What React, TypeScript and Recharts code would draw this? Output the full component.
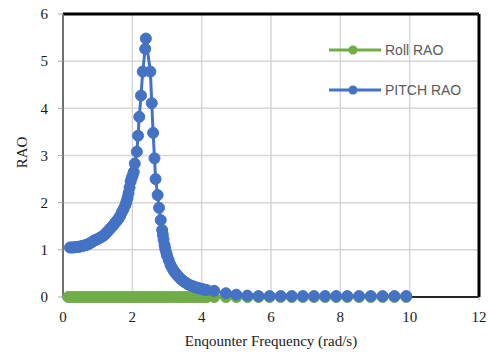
import { CartesianGrid, Legend, Line, LineChart, ReferenceLine, XAxis, YAxis } from 'recharts';

// encounter frequency (rad/s) and RAO
const pitchFreq = [
  0.2, 0.25, 0.3, 0.35, 0.4, 0.45, 0.5, 0.55, 0.6, 0.65, 0.7, 0.75, 0.8, 0.85, 0.9, 0.95, 1.0, 1.05, 1.1, 1.15, 1.2,
  1.25, 1.3, 1.35, 1.4, 1.45, 1.5, 1.55, 1.6, 1.65, 1.7, 1.75, 1.8, 1.83, 1.86, 1.89, 1.92, 1.95, 1.98, 2.01, 2.04,
  2.07, 2.13, 2.165, 2.2, 2.25, 2.3, 2.37, 2.39, 2.52, 2.56, 2.6, 2.64, 2.67, 2.73, 2.77, 2.82, 2.86, 2.88, 2.9, 2.93,
  2.95, 2.98, 3.0, 3.05, 3.1, 3.15, 3.2, 3.25, 3.3, 3.35, 3.4, 3.45, 3.5, 3.55, 3.6, 3.65, 3.7, 3.75, 3.8, 3.85, 3.9,
  3.95, 4.0, 4.05, 4.1, 4.15, 4.36, 4.7, 5.0, 5.32, 5.64, 5.96, 6.28, 6.6, 6.92, 7.24, 7.56, 7.88, 8.2, 8.54, 8.88,
  9.22, 9.56, 9.9,
];
const pitchRao = [
  1.05, 1.05, 1.05, 1.055, 1.06, 1.065, 1.07, 1.08, 1.09, 1.1, 1.11, 1.13, 1.15, 1.17, 1.2, 1.21, 1.23, 1.25, 1.27,
  1.29, 1.32, 1.36, 1.4, 1.44, 1.48, 1.52, 1.57, 1.61, 1.66, 1.72, 1.8, 1.87, 1.95, 2.02, 2.1, 2.2, 2.32, 2.45, 2.52,
  2.58, 2.65, 2.83, 3.08, 3.42, 3.82, 4.27, 4.78, 5.26, 5.48, 4.78, 4.11, 3.48, 2.94, 2.5, 2.16, 1.89, 1.63, 1.42, 1.32,
  1.22, 1.1, 1.02, 0.94, 0.88, 0.78, 0.68, 0.61, 0.55, 0.5, 0.46, 0.42, 0.38, 0.35, 0.32, 0.3, 0.27, 0.255, 0.24,
  0.225, 0.21, 0.2, 0.19, 0.18, 0.17, 0.16, 0.15, 0.145, 0.13, 0.08, 0.05, 0.03, 0.02, 0.02, 0.02, 0.02, 0.02, 0.02,
  0.02, 0.02, 0.02, 0.02, 0.02, 0.02, 0.02, 0.02, 0.02,
];
const rollFreq = [
  0.15, 0.25, 0.35, 0.45, 0.55, 0.65, 0.75, 0.85, 0.95, 1.05, 1.15, 1.25, 1.35, 1.45, 1.55, 1.65, 1.75, 1.85, 1.95,
  2.05, 2.15, 2.25, 2.35, 2.45, 2.55, 2.65, 2.75, 2.85, 2.95, 3.05, 3.15, 3.25, 3.35, 3.45, 3.55, 3.65, 3.75, 3.85,
  3.95, 4.05, 4.15, 4.36, 4.7, 5.0, 5.32, 5.64, 5.96, 6.28, 6.6, 6.92, 7.24, 7.56, 7.88, 8.2, 8.54, 8.88, 9.22, 9.56,
  9.9,
];
const rollRao = [
  0, 0, 0, 0, 0, 0, 0, 0, 0, 0, 0, 0, 0, 0, 0, 0, 0, 0, 0, 0, 0, 0, 0, 0, 0, 0, 0, 0, 0, 0, 0, 0, 0, 0, 0, 0, 0, 0, 0,
  0, 0, 0, 0, 0, 0, 0, 0, 0, 0, 0, 0, 0, 0, 0, 0, 0, 0, 0, 0,
];

const xTicks = [0, 2, 4, 6, 8, 10, 12];
const yTicks = [0, 1, 2, 3, 4, 5, 6];
const xMinor = [
  0, 0.4, 0.8, 1.2, 1.6, 2, 2.4, 2.8, 3.2, 3.6, 4, 4.4, 4.8, 5.2, 5.6, 6, 6.4, 6.8, 7.2, 7.6, 8, 8.4, 8.8, 9.2, 9.6,
  10, 10.4, 10.8, 11.2, 11.6, 12,
];
const yMinor = [
  0, 0.2, 0.4, 0.6, 0.8, 1, 1.2, 1.4, 1.6, 1.8, 2, 2.2, 2.4, 2.6, 2.8, 3, 3.2, 3.4, 3.6, 3.8, 4, 4.2, 4.4, 4.6, 4.8,
  5, 5.2, 5.4, 5.6, 5.8, 6,
];

const pitchData = pitchFreq.map((x, i) => ({ x, y: pitchRao[i] }));
const rollData = rollFreq.map((x, i) => ({ x, y: rollRao[i] }));

const BLUE = '#4472C4';
const GREEN = '#70AD47';
const SERIF = "'Liberation Serif', 'Times New Roman', serif";
const INK = '#1a1a1a';

const legendItems = [
  { name: 'Roll RAO', color: GREEN },
  { name: 'PITCH RAO', color: BLUE },
];

const LegendBox = () => (
  <svg width={150} height={64}>
    {legendItems.map((item, i) => {
      const y = 12 + i * 40;
      return (
        <g key={item.name}>
          <line x1={4} y1={y} x2={56} y2={y} stroke={item.color} strokeWidth={3} />
          <circle cx={28} cy={y} r={4.5} fill={item.color} />
          <text
            x={60}
            y={y}
            dominantBaseline="central"
            fill="#595959"
            fontSize={14}
            style={{ fontFamily: "'Liberation Sans', Arial, sans-serif" }}
          >
            {item.name}
          </text>
        </g>
      );
    })}
  </svg>
);

const XTick = (props: any) => (
  <text x={props.x} y={props.y} dy="0.71em" textAnchor="middle" fontSize={15} fill={INK} style={{ fontFamily: SERIF }}>
    {props.payload.value}
  </text>
);

const YTick = (props: any) => (
  <text x={props.x} y={props.y} dy="0.355em" textAnchor="end" fontSize={15} fill={INK} style={{ fontFamily: SERIF }}>
    {props.payload.value}
  </text>
);

const XTitle = (props: any) => {
  const { viewBox } = props;
  return (
    <text
      x={viewBox.x + viewBox.width / 2}
      y={viewBox.y + 49}
      textAnchor="middle"
      fontSize={15}
      fill={INK}
      style={{ fontFamily: SERIF }}
    >
      Enqounter Frequency (rad/s)
    </text>
  );
};

const YTitle = (props: any) => {
  const { viewBox } = props;
  const cx = viewBox.x + 9;
  const cy = viewBox.y + viewBox.height / 2 - 3;
  return (
    <text
      x={cx}
      y={cy}
      transform={`rotate(-90 ${cx} ${cy})`}
      textAnchor="middle"
      dominantBaseline="central"
      fontSize={15}
      fill={INK}
      style={{ fontFamily: SERIF }}
    >
      RAO
    </text>
  );
};

export default function App() {
  return (
    <div style={{ position: 'absolute', left: 0, top: 0, width: 490, height: 355, background: '#fff' }}>
      <LineChart width={490} height={355} margin={{ top: 14, right: 11, left: 13, bottom: 0 }}>
        <XAxis xAxisId="minor" type="number" dataKey="x" domain={[0, 12]} ticks={xMinor} hide />
        <YAxis yAxisId="minor" type="number" domain={[0, 6]} ticks={yMinor} hide />
        <CartesianGrid xAxisId="minor" yAxisId="minor" stroke="#efefef" strokeWidth={1.5} />
        <CartesianGrid xAxisId="main" yAxisId="main" stroke="#d6d6d6" strokeWidth={1.5} />
        <XAxis
          xAxisId="main"
          type="number"
          dataKey="x"
          domain={[0, 12]}
          ticks={xTicks}
          height={58}
          tick={<XTick />}
          tickSize={3}
          tickMargin={11}
          tickLine={{ stroke: '#a6a6a6' }}
          axisLine={{ stroke: '#262626', strokeWidth: 2 }}
          label={<XTitle />}
        />
        <YAxis
          yAxisId="main"
          type="number"
          domain={[0, 6]}
          ticks={yTicks}
          width={50}
          tick={<YTick />}
          tickSize={5}
          tickMargin={10}
          tickLine={{ stroke: '#a6a6a6' }}
          axisLine={{ stroke: '#6f6f6f', strokeWidth: 2 }}
          label={<YTitle />}
        />
        <ReferenceLine xAxisId="main" yAxisId="main" y={6} stroke="#000" strokeWidth={3} />
        <ReferenceLine xAxisId="main" yAxisId="main" x={12} stroke="#000" strokeWidth={3} />
        <Legend
          layout="vertical"
          align="center"
          verticalAlign="middle"
          content={<LegendBox />}
          wrapperStyle={{ position: 'absolute', left: 325, top: 38, width: 150, height: 64 }}
        />
        <Line
          xAxisId="main"
          yAxisId="main"
          data={rollData}
          dataKey="y"
          name="Roll RAO"
          stroke={GREEN}
          strokeWidth={3}
          dot={{ r: 5.5, fill: GREEN, stroke: GREEN, strokeWidth: 1 }}
          activeDot={false}
          isAnimationActive={false}
        />
        <Line
          xAxisId="main"
          yAxisId="main"
          data={pitchData}
          dataKey="y"
          name="PITCH RAO"
          stroke={BLUE}
          strokeWidth={3}
          dot={{ r: 5.5, fill: BLUE, stroke: BLUE, strokeWidth: 1 }}
          activeDot={false}
          isAnimationActive={false}
        />
      </LineChart>
    </div>
  );
}
